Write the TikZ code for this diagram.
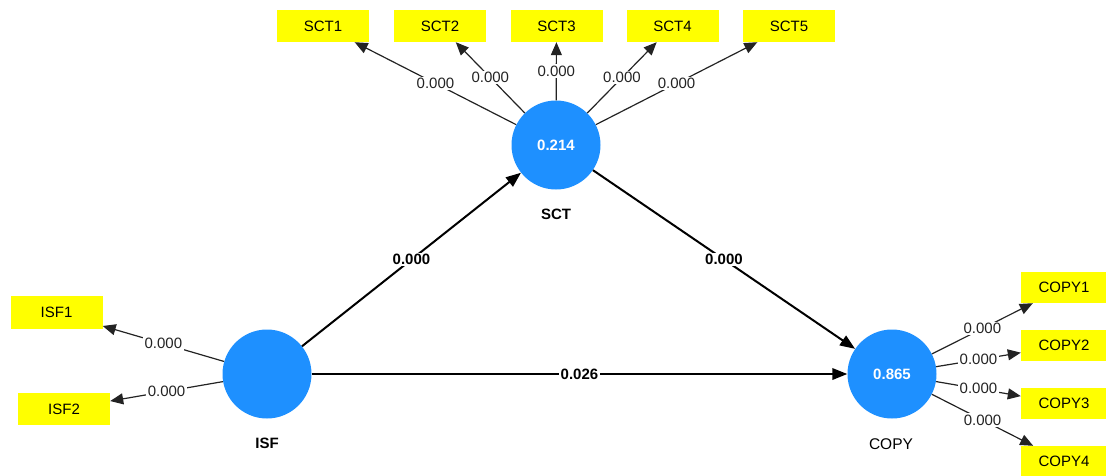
\documentclass[tikz,border=0pt]{standalone}
\usepackage{fontspec}
\setmainfont{Liberation Sans}
\usetikzlibrary{arrows.meta}
\definecolor{lvblue}{RGB}{30,144,255}
\definecolor{mvyellow}{RGB}{255,255,0}
\definecolor{inkline}{RGB}{35,35,35}
\begin{document}
\begin{tikzpicture}[x=1pt,y=-1pt,
  lv/.style={circle,fill=lvblue,minimum size=89pt,inner sep=0pt,text=white,
    font=\fontsize{15}{18}\selectfont\bfseries},
  mv/.style={rectangle,fill=mvyellow,minimum width=92pt,minimum height=32pt,
    inner sep=0pt,font=\fontsize{15}{18}\selectfont},
  mvcopy/.style={mv,minimum width=86pt,minimum height=31pt},
  lvname/.style={font=\fontsize{15}{18}\selectfont\bfseries},
  lvnamereg/.style={font=\fontsize{15.5}{18}\selectfont},
  loading/.style={draw=inkline,line width=1.2pt,-{Triangle[length=13pt,width=11pt]}},
  structpath/.style={draw=black,line width=2pt,-{Triangle[length=15pt,width=11.5pt]}},
  wlab/.style={fill=white,inner sep=1.5pt,text=inkline,font=\fontsize{15}{18}\selectfont},
  blab/.style={fill=white,inner sep=1.5pt,font=\fontsize{15}{18}\selectfont\bfseries}]

\useasboundingbox (0,0) rectangle (1106,475);

% latent variables
\node[lv] (SCT)  at (556,145) {0.214};
\node[lv] (ISF)  at (267,374) {};
\node[lv] (COPY) at (892,374) {0.865};

\node[lvname]    (SCTname)  at (556,214) {SCT};
\node[lvname]    (ISFname)  at (267,443) {ISF};
\node[lvnamereg] (COPYname) at (891,444) {COPY};

% indicators
\node[mv] (SCT1) at (323,26)   {SCT1};
\node[mv] (SCT2) at (440,26)   {SCT2};
\node[mv] (SCT3) at (556.5,26) {SCT3};
\node[mv] (SCT4) at (672.5,26) {SCT4};
\node[mv] (SCT5) at (789,26)   {SCT5};

\node[mv,minimum height=33pt] (ISF1) at (56.5,312.5) {ISF1};
\node[mv,minimum height=32pt] (ISF2) at (64,409)     {ISF2};

\node[mvcopy] (COPY1) at (1064,287.5) {COPY1};
\node[mvcopy] (COPY2) at (1064,345.5) {COPY2};
\node[mvcopy] (COPY3) at (1064,403.5) {COPY3};
\node[mvcopy] (COPY4) at (1064,461.5) {COPY4};

% outer loadings
\foreach \i in {1,...,5}
  \draw[loading] (SCT) -- node[wlab,midway] {0.000} (SCT\i);
\foreach \i in {1,2}
  \draw[loading] (ISF) -- node[wlab,midway] {0.000} (ISF\i);
\foreach \i in {1,...,4}
  \draw[loading] (COPY) -- node[wlab,midway] {0.000} (COPY\i);

% structural paths
\draw[structpath] (ISF) -- node[blab,midway] {0.000} (SCT);
\draw[structpath] (SCT) -- node[blab,midway] {0.000} (COPY);
\draw[structpath] (ISF) -- node[blab,midway] {0.026} (COPY);

\end{tikzpicture}
\end{document}
